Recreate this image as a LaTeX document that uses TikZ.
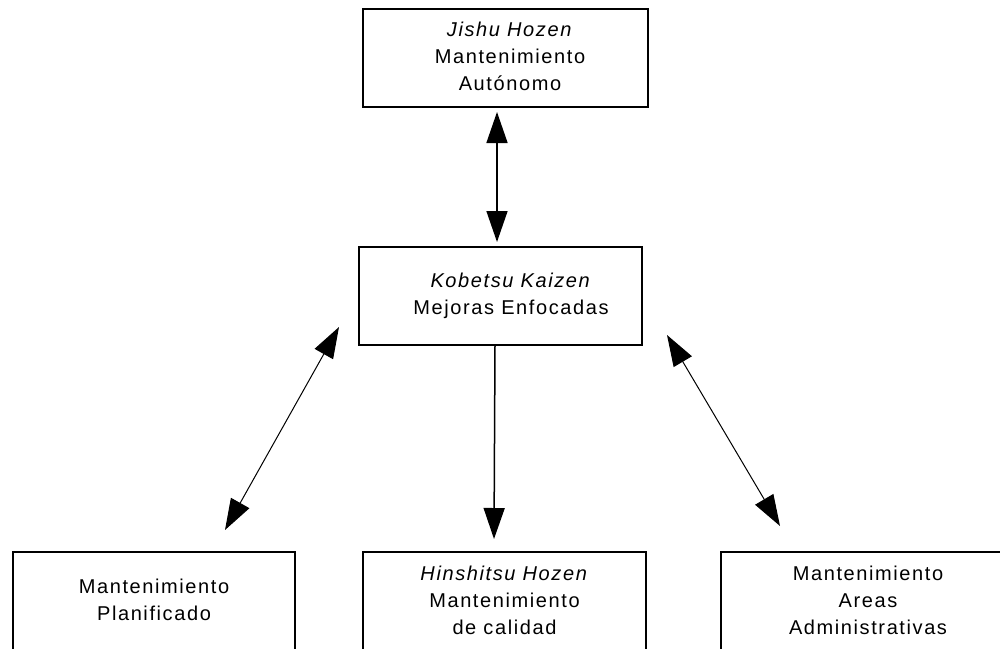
\documentclass[tikz,border=0pt]{standalone}
\usepackage{fontspec}
\setmainfont{Liberation Sans}[LetterSpace=8]
\usetikzlibrary{arrows.meta}
\newcommand\boxlines[2]{\hspace*{#1}\begin{tabular}{@{}c@{}}#2\end{tabular}}
\tikzset{
  box/.style={draw, line width=1.5pt, inner sep=0pt, outer sep=0pt,
    minimum width=#1, font=\fontsize{20}{27}\selectfont},
  conn/.style={{Triangle[length=31pt,width=21pt]}-{Triangle[length=31pt,width=21pt]}},
  oneway/.style={-{Triangle[length=31pt,width=21pt]}},
}
\begin{document}
\begin{tikzpicture}[x=1pt,y=-1pt]
\useasboundingbox (0,0) rectangle (1000,648);
\clip (0,0) rectangle (1000,648);
\fill[white] (0,0) rectangle (1000,648);
\node[box=285pt, minimum height=98pt] (top) at (505.5,58)
  {\boxlines{9pt}{\textit{Jishu Hozen}\\Mantenimiento\\Autónomo}};
\node[box=283pt, minimum height=98pt] (mid) at (500.5,296)
  {\boxlines{21pt}{\textit{Kobetsu Kaizen}\\Mejoras Enfocadas}};
\node[box=282pt, minimum height=100pt] (bl) at (154,602)
  {\boxlines{0pt}{Mantenimiento\\Planificado}};
\node[box=283pt, minimum height=100pt] (bm) at (504.5,602)
  {\boxlines{0pt}{\textit{Hinshitsu Hozen}\\Mantenimiento\\de calidad}};
\node[box=285pt, minimum height=100pt] (br) at (863.5,602)
  {\boxlines{9pt}{Mantenimiento\\Areas\\Administrativas}};
\draw[conn, line width=1.5pt] ([xshift=-8.5pt,yshift=-5pt]top.south) -- ([xshift=-3.5pt,yshift=5pt]mid.north);
\draw[oneway, line width=1.5pt] ([xshift=-5.5pt]mid.south) -- ([xshift=-10.5pt,yshift=13pt]bm.north);
\draw[conn, line width=1pt] ([xshift=-20pt,yshift=18pt]mid.south west) -- ([xshift=-70pt,yshift=22pt]bl.north east);
\draw[conn, line width=1pt] ([xshift=25pt,yshift=10pt]mid.south east) -- ([xshift=59pt,yshift=26pt]br.north west);
\end{tikzpicture}
\end{document}
